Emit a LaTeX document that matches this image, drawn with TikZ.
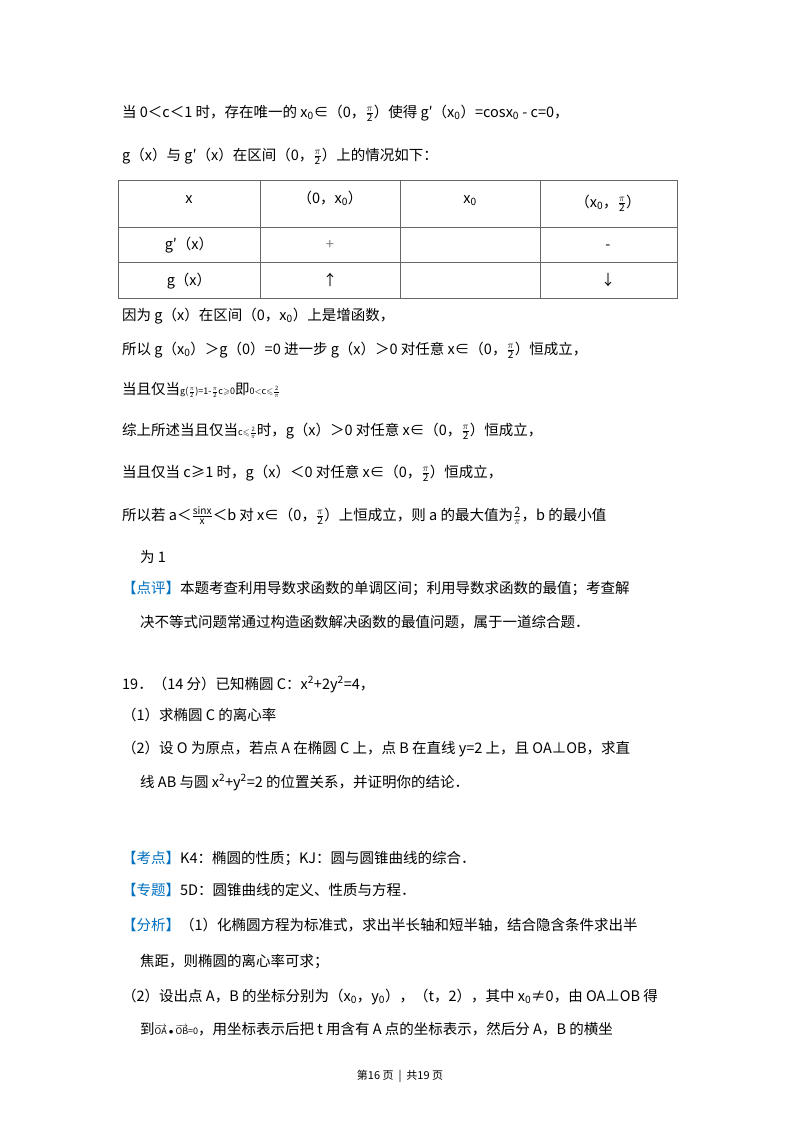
\documentclass[tikz,border=0pt]{standalone}
\usepackage{fontspec}
\usepackage{amssymb}
\setmainfont{Noto Sans CJK SC}
\definecolor{kblue}{RGB}{0,112,192}
\newcommand{\lsub}[1]{\textsubscript{#1}}
\newcommand{\fr}[2]{$\frac{\mathrm{#1}}{\mathrm{#2}}$}
\newcommand{\kw}[1]{\textcolor{kblue}{【#1】}}
\begin{document}
\begin{tikzpicture}[x=1pt,y=-1pt,font=\fontsize{14.5}{17}\selectfont,
  txt/.style={anchor=base west,inner sep=0pt},
  cell/.style={anchor=base,inner sep=0pt}]
\useasboundingbox (0,0) rectangle (800,1132);
\fill[white] (0,0) rectangle (800,1132);
\node[txt] (l1) at (122,117) {当 0＜c＜1 时，存在唯一的 x\lsub{0}∈（0，\fr{\pi}{2}）使得 g′（x\lsub{0}）=cosx\lsub{0} - c=0，};
\node[txt] (l2) at (122,160) {g（x）与 g′（x）在区间（0，\fr{\pi}{2}）上的情况如下：};
% table
\draw[gray!80!black,line width=0.7pt] (118,180) rectangle (677,298);
\draw[gray!80!black,line width=0.7pt] (118,227) -- (677,227) (118,262) -- (677,262)
  (260,180) -- (260,298) (400,180) -- (400,298) (540,180) -- (540,298);
\node[cell] (t11) at (189,203) {x};
\node[cell] (t12) at (330,203) {（0，x\lsub{0}）};
\node[cell] (t13) at (470,203) {x\lsub{0}};
\node[cell] (t14) at (608,207) {（x\lsub{0}，\fr{\pi}{2}）};
\node[cell] (t21) at (189,249) {g′（x）};
\node[cell] (t22) at (330,249) {\textcolor{gray}{+}};
\node[cell] (t24) at (608,249) {-};
\node[cell] (t31) at (189,285) {g（x）};
\node[cell] (t32) at (330,285) {↑};
\node[cell] (t34) at (608,285) {↓};
\node[txt] (l3) at (122,320) {因为 g（x）在区间（0，x\lsub{0}）上是增函数，};
\node[txt] (l4) at (122,354) {所以 g（x\lsub{0}）＞g（0）=0 进一步 g（x）＞0 对任意 x∈（0，\fr{\pi}{2}）恒成立，};
\node[txt] (l5) at (122,394) {当且仅当{\small g(\fr{\pi}{2})=1-\fr{\pi}{2}c$\geqslant$0}即{\small 0$<$c$\leqslant$\fr{2}{\pi}}};
\node[txt] (l6) at (122,435) {综上所述当且仅当{\small c$\leqslant$\fr{2}{\pi}}时，g（x）＞0 对任意 x∈（0，\fr{\pi}{2}）恒成立，};
\node[txt] (l7) at (122,477) {当且仅当 c≥1 时，g（x）＜0 对任意 x∈（0，\fr{\pi}{2}）恒成立，};
\node[txt] (l8) at (122,520) {所以若 a＜$\frac{\mathrm{sinx}}{\mathrm{x}}$＜b 对 x∈（0，\fr{\pi}{2}）上恒成立，则 a 的最大值为\fr{2}{\pi}，b 的最小值};
\node[txt] (l9) at (140,562) {为 1};
\node[txt] (l10) at (122,593) {\kw{点评}本题考查利用导数求函数的单调区间；利用导数求函数的最值；考查解};
\node[txt] (l11) at (140,627) {决不等式问题常通过构造函数解决函数的最值问题，属于一道综合题．};
\node[txt] (l12) at (122,689) {19．（14 分）已知椭圆 C：x\textsuperscript{2}+2y\textsuperscript{2}=4，};
\node[txt] (l13) at (122,720) {（1）求椭圆 C 的离心率};
\node[txt] (l14) at (122,753) {（2）设 O 为原点，若点 A 在椭圆 C 上，点 B 在直线 y=2 上，且 OA⊥OB，求直};
\node[txt] (l15) at (140,787) {线 AB 与圆 x\textsuperscript{2}+y\textsuperscript{2}=2 的位置关系，并证明你的结论．};
\node[txt] (l16) at (122,863) {\kw{考点}K4：椭圆的性质；KJ：圆与圆锥曲线的综合．};
\node[txt] (l17) at (122,895) {\kw{专题}5D：圆锥曲线的定义、性质与方程．};
\node[txt] (l18) at (122,930) {\kw{分析}（1）化椭圆方程为标准式，求出半长轴和短半轴，结合隐含条件求出半};
\node[txt] (l19) at (140,966) {焦距，则椭圆的离心率可求；};
\node[txt] (l20) at (122,1001) {（2）设出点 A，B 的坐标分别为（x\lsub{0}，y\lsub{0}），（t，2），其中 x\lsub{0}≠0，由 OA⊥OB 得};
\node[txt] (l21) at (140,1034) {到{\small$\overrightarrow{\mathrm{OA}}\bullet\overrightarrow{\mathrm{OB}}$=0}，用坐标表示后把 t 用含有 A 点的坐标表示，然后分 A，B 的横坐};
\node[cell,font=\fontsize{11}{13}\selectfont] (ft) at (400,1079) {第16 页 \ \textbar\ \ 共19 页};
\end{tikzpicture}
\end{document}
